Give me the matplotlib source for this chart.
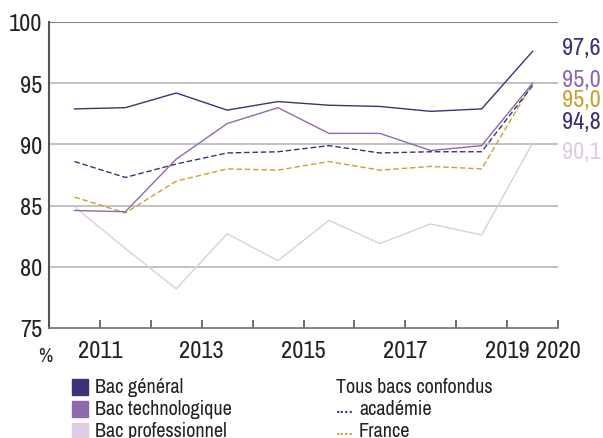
import matplotlib
matplotlib.use("Agg")
import matplotlib.pyplot as plt
from matplotlib import font_manager as fm
from matplotlib.patches import Rectangle

names = {f.name for f in fm.fontManager.ttflist}
FONT = "Archivo Narrow" if "Archivo Narrow" in names else "DejaVu Sans"
plt.rcParams['font.family'] = [FONT, 'DejaVu Sans']

years = [2011, 2012, 2013, 2014, 2015, 2016, 2017, 2018, 2019, 2020]
bac_general = [92.9, 93.0, 94.2, 92.8, 93.5, 93.2, 93.1, 92.7, 92.9, 97.6]
bac_techno = [84.6, 84.5, 88.8, 91.7, 93.0, 90.9, 90.9, 89.5, 89.9, 95.0]
bac_pro = [84.9, 81.5, 78.2, 82.7, 80.5, 83.8, 81.9, 83.5, 82.6, 90.1]
academie = [88.6, 87.3, 88.4, 89.3, 89.4, 89.9, 89.3, 89.4, 89.4, 94.8]
france = [85.7, 84.4, 87.0, 88.0, 87.9, 88.6, 87.9, 88.2, 88.0, 95.0]
tick_labels = ["2011", "", "2013", "", "2015", "", "2017", "", "2019", "2020"]
end_labels = ["97,6", "95,0", "95,0", "94,8", "90,1"]

C_GEN = "#3d3278"
C_TECH = "#9068b0"
C_PRO = "#dfcce3"
C_FR = "#c9a032"

fig = plt.figure(figsize=(6.03, 4.39), dpi=100)
ax = fig.add_axes([49/603, 1-329/439, (558-49)/603, (329-23)/439])

xs = [i + 0.5 for i in range(len(years))]
ax.plot(xs, bac_pro, color=C_PRO, lw=1.0)
ax.plot(xs, france, color=C_FR, lw=1.0, ls=(0, (4, 2)))
ax.plot(xs, academie, color=C_GEN, lw=1.0, ls=(0, (4, 2)))
ax.plot(xs, bac_techno, color=C_TECH, lw=1.0)
ax.plot(xs, bac_general, color=C_GEN, lw=1.0)

ax.set_xlim(0, 10)
ax.set_ylim(75, 100)
for v in [80, 85, 90, 95]:
    ax.axhline(v, color="#bdbdbd", lw=1.3, zorder=0)
ax.axhline(100, color="#888888", lw=1.5, zorder=0)

FS = 17.5
ax.set_yticks([75, 80, 85, 90, 95, 100])
ax.set_yticklabels(["75", "80", "85", "90", "95", "100"], fontsize=FS, color="#222222")
ax.tick_params(axis='y', length=0, pad=5)
ax.set_xticks(range(1, 11))
ax.set_xticklabels(tick_labels, fontsize=FS, color="#222222")
ax.tick_params(axis='x', direction='in', length=6, width=1.2, color="#555555", pad=9)

for s in ["top", "right"]:
    ax.spines[s].set_visible(False)
ax.spines["left"].set_color("#555555")
ax.spines["left"].set_linewidth(1.5)
ax.spines["bottom"].set_color("#777777")
ax.spines["bottom"].set_linewidth(1.3)

fig.text(38/603, 1-357/439, "%", fontsize=14, color="#222222", va="center", ha="left")

# end labels
end_y = [48, 80, 101, 123, 152]
end_c = [C_GEN, C_TECH, C_FR, C_GEN, C_PRO]
for lab, y, c in zip(end_labels, end_y, end_c):
    fig.text(562/603, 1-y/439, lab, fontsize=FS, color=c, va="center", ha="left")

# legend
LS = 14.5
rows = [388, 410, 432]
leg_items = [("Bac général", C_GEN), ("Bac technologique", C_TECH), ("Bac professionnel", C_PRO)]
for (lab, c), y in zip(leg_items, rows):
    fig.patches.append(Rectangle((72/603, 1-(y+8)/439), 16/603, 16/439, transform=fig.transFigure,
                                 color=c, figure=fig))
    fig.text(95/603, 1-y/439, lab, fontsize=LS, color="#222222", va="center", ha="left")

fig.text(336/603, 1-388/439, "Tous bacs confondus", fontsize=LS, color="#222222", va="center", ha="left")
fig.text(336/603, 1-413/439, "....", fontsize=LS, color=C_GEN, va="baseline", ha="left", fontweight="bold")
fig.text(359/603, 1-410/439, "académie", fontsize=LS, color="#222222", va="center", ha="left")
fig.text(336/603, 1-435/439, "....", fontsize=LS, color=C_FR, va="baseline", ha="left", fontweight="bold")
fig.text(359/603, 1-432/439, "France", fontsize=LS, color="#222222", va="center", ha="left")

fig.savefig("out.png", dpi=100)
